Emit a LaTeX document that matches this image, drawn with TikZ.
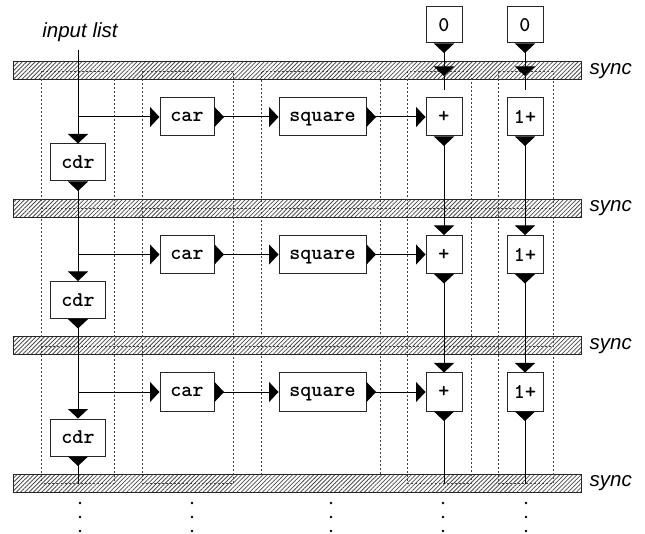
\documentclass[tikz,border=0pt]{standalone}
\usepackage{fontspec}
\setmainfont{Liberation Sans}
\usetikzlibrary{arrows.meta,positioning,patterns.meta}

\begin{document}
\begin{tikzpicture}[
  x=1pt,
  y=-1pt,
  op/.style={
    draw=black!85,
    line width=1pt,
    fill=white,
    inner sep=0pt,
    minimum height=38pt,
    text depth=0pt,
    yshift=0pt,
    font=\ttfamily\bfseries\fontsize{21}{24}\selectfont
  },
  syncbar/.style={
    draw=black!85,
    line width=1pt,
    inner sep=0pt,
    minimum width=568pt,
    minimum height=18pt,
    pattern={Lines[angle=45,distance=3pt,line width=0.8pt]},
    pattern color=black!70
  },
  note/.style={font=\itshape\fontsize{20.5}{24}\selectfont, inner sep=2pt},
  stage/.style={draw=black!75, line width=0.9pt, dash pattern=on 2pt off 2pt},
  wire/.style={line width=1pt},
  feed/.style={wire, -{Triangle[width=20pt,length=9.5pt]}},
  pass/.style={wire, {Triangle[reversed,width=20pt,length=9.5pt]}-{Triangle[width=20pt,length=9.5pt]}},
  leave/.style={wire, {Triangle[reversed,width=20pt,length=9.5pt]}-}
]
\useasboundingbox (0,0) rectangle (645,534);

% Sync bars
\node[syncbar] (syncA) at (297,71) {};
\node[syncbar] (syncB) at (297,208.5) {};
\node[syncbar] (syncC) at (297,346) {};
\node[syncbar] (syncD) at (297,483.5) {};
\node[note, right=6pt of syncA] {sync};
\node[note, right=6pt of syncB] {sync};
\node[note, right=6pt of syncC] {sync};
\node[note, right=6pt of syncD] {sync};

% Stage columns
\draw[stage] (41,71) rectangle (114,483.5);
\draw[stage] (142,71) rectangle (233,483.5);
\draw[stage] (261,474.5) -- (261,71) -- (380,71) -- (380,474.5);
\draw[stage] (407,71) rectangle (471,483.5);
\draw[stage] (498,71) rectangle (553,483.5);
\draw[stage] (41,208.5) -- (553,208.5);
\draw[stage] (41,346) -- (553,346);

% Initial values
\node[op, minimum width=36pt, minimum height=36pt] (zeroSum) at (444,25) {0};
\node[op, minimum width=36pt, minimum height=36pt] (zeroCount) at (525,25) {0};
\node[note] (inputLabel) at (80,32) {input list};

% Row 1
\node[op, minimum width=55pt, minimum height=37pt] (cdrA) at (78,162.5) {cdr};
\node[op, minimum width=54pt] (carA) at (187,117) {car};
\node[op, minimum width=87pt] (squareA) at (322.5,117) {square};
\node[op, minimum width=36pt] (sumA) at (444,117) {+};
\node[op, minimum width=36pt] (countA) at (525,117) {1+};

% Row 2
\node[op, minimum width=55pt, minimum height=37pt] (cdrB) at (78,300) {cdr};
\node[op, minimum width=54pt] (carB) at (187,254.5) {car};
\node[op, minimum width=87pt] (squareB) at (322.5,254.5) {square};
\node[op, minimum width=36pt] (sumB) at (444,254.5) {+};
\node[op, minimum width=36pt] (countB) at (525,254.5) {1+};

% Row 3
\node[op, minimum width=55pt, minimum height=37pt] (cdrC) at (78,437.5) {cdr};
\node[op, minimum width=54pt] (carC) at (187,392) {car};
\node[op, minimum width=87pt] (squareC) at (322.5,392) {square};
\node[op, minimum width=36pt] (sumC) at (444,392) {+};
\node[op, minimum width=36pt] (countC) at (525,392) {1+};

% Free ends
\coordinate (inputTop) at (78,50);
\coordinate (splitA) at (78,117);
\coordinate (splitB) at (78,254.5);
\coordinate (splitC) at (78,392);
\coordinate (sumIn) at (444,76);
\coordinate (sumStub) at (444,90);
\coordinate (countIn) at (525,76);
\coordinate (countStub) at (525,90);
\coordinate (cdrEnd) at (78,483.5);
\coordinate (sumEnd) at (444,483.5);
\coordinate (countEnd) at (525,483.5);

% Start values through first sync
\draw[pass] (zeroSum) -- (sumIn);
\draw[wire] (sumIn) -- (sumStub);
\draw[pass] (zeroCount) -- (countIn);
\draw[wire] (countIn) -- (countStub);

% List walk
\draw[feed] (inputTop) -- (cdrA);
\draw[pass] (cdrA) -- (cdrB);
\draw[pass] (cdrB) -- (cdrC);
\draw[leave] (cdrC) -- (cdrEnd);

% Element pipelines
\draw[feed] (splitA) -- (carA);
\draw[pass] (carA) -- (squareA);
\draw[pass] (squareA) -- (sumA);
\draw[feed] (splitB) -- (carB);
\draw[pass] (carB) -- (squareB);
\draw[pass] (squareB) -- (sumB);
\draw[feed] (splitC) -- (carC);
\draw[pass] (carC) -- (squareC);
\draw[pass] (squareC) -- (sumC);

% Accumulators
\draw[pass] (sumA) -- (sumB);
\draw[pass] (sumB) -- (sumC);
\draw[leave] (sumC) -- (sumEnd);
\draw[pass] (countA) -- (countB);
\draw[pass] (countB) -- (countC);
\draw[leave] (countC) -- (countEnd);

% Continuation dots
\fill (80,503) circle (1.3) (80,517) circle (1.3) (80,531) circle (1.3);
\fill (192,503) circle (1.3) (192,517) circle (1.3) (192,531) circle (1.3);
\fill (331,503) circle (1.3) (331,517) circle (1.3) (331,531) circle (1.3);
\fill (443,503) circle (1.3) (443,517) circle (1.3) (443,531) circle (1.3);
\fill (526,503) circle (1.3) (526,517) circle (1.3) (526,531) circle (1.3);

\end{tikzpicture}
\end{document}
